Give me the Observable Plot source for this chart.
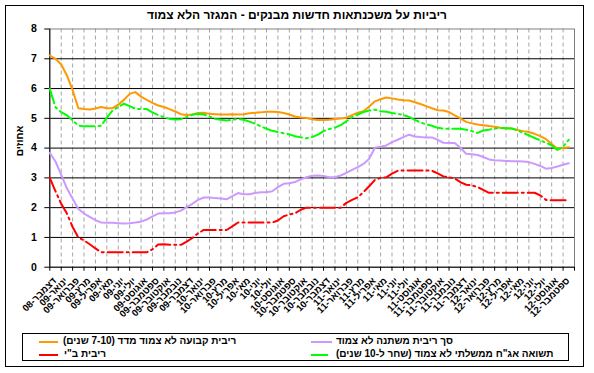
<!DOCTYPE html>
<html><head><meta charset="utf-8">
<script src="https://cdn.jsdelivr.net/npm/d3@7"></script>
<script src="https://cdn.jsdelivr.net/npm/@observablehq/plot@0.6"></script>
<style>
body{margin:0;background:#fff;}
#wrap{position:relative;width:594px;height:373px;overflow:hidden;font-family:"Liberation Sans",Arial,"DejaVu Sans",sans-serif;font-weight:bold;color:#000;background:#fff;}
#wrap svg{position:absolute;left:0;top:0;}
.abs{position:absolute;white-space:nowrap;}
#border{left:5px;top:5px;width:579px;height:362px;border:1px solid #000;box-sizing:border-box;}
#title{left:0;top:8px;width:594px;text-align:center;font-size:12px;direction:rtl;line-height:14px;}
#ylab{left:19px;top:141px;font-size:10px;transform:translate(-50%,-50%) rotate(-90deg);direction:rtl;}
#legend{left:22px;top:333px;width:547px;height:28px;border:1px solid #000;box-sizing:border-box;}
.sw{position:absolute;height:2px;}
.lt{position:absolute;font-size:10px;line-height:12px;direction:rtl;white-space:nowrap;}
</style></head>
<body>
<div id="wrap"></div>
<script>
const title = "ריביות על משכנתאות חדשות מבנקים - המגזר הלא צמוד";
const yLabel = "אחוזים";
const monthLabels = [
 "דצמבר-08","ינואר-09","פברואר-09","מרץ-09","אפריל-09","מאי-09","יוני-09","יולי-09","אוגוסט-09","ספטמבר-09","אוקטובר-09","נובמבר-09",
 "דצמבר-09","ינואר-10","פברואר-10","מרץ-10","אפריל-10","מאי-10","יוני-10","יולי-10","אוגוסט-10","ספטמבר-10","אוקטובר-10","נובמבר-10",
 "דצמבר-10","ינואר-11","פברואר-11","מרץ-11","אפריל-11","מאי-11","יוני-11","יולי-11","אוגוסט-11","ספטמבר-11","אוקטובר-11","נובמבר-11",
 "דצמבר-11","ינואר-12","פברואר-12","מרץ-12","אפריל-12","מאי-12","יוני-12","יולי-12","אוגוסט-12","ספטמבר-12"
];
const seriesNames = [
 "ריבית קבועה לא צמוד מדד (7-10 שנים)",
 "סך ריבית משתנה לא צמוד",
 "ריבית ב\"י",
 "תשואה אג\"ח ממשלתי לא צמוד (שחר ל-10 שנים)"
];
const seriesColors = ["#FF9900", "#CC99FF", "#FF0000", "#00FF00"];
// values read every half month, starting at the first day of Dec-08
const fixedRate = [
 7.11,7.00,6.81,6.44,5.95,5.34,5.31,5.30,5.33,5.38,
 5.34,5.34,5.46,5.62,5.82,5.88,5.73,5.62,5.52,5.43,
 5.38,5.31,5.23,5.14,5.11,5.13,5.18,5.19,5.15,5.14,
 5.13,5.13,5.14,5.13,5.14,5.17,5.19,5.20,5.22,5.22,
 5.21,5.18,5.13,5.06,5.03,5.01,4.97,4.94,
 4.94,4.95,4.98,4.99,5.02,5.11,5.19,5.24,5.40,5.57,
 5.64,5.70,5.67,5.63,5.61,5.60,5.54,5.48,5.41,5.34,
 5.27,5.26,5.21,5.10,5.00,4.88,4.83,4.79,4.77,4.74,
 4.72,4.68,4.66,4.66,4.61,4.57,4.54,4.48,4.40,4.30,
 4.14,3.98,4.00,4.03
];
const variableRate = [
 3.84,3.55,3.10,2.65,2.30,1.96,1.80,1.69,1.58,1.50,
 1.49,1.49,1.48,1.47,1.48,1.50,1.53,1.60,1.71,1.80,
 1.81,1.81,1.84,1.90,2.02,2.13,2.26,2.34,2.34,2.32,
 2.31,2.28,2.39,2.49,2.45,2.45,2.49,2.52,2.52,2.55,
 2.69,2.80,2.82,2.86,2.95,3.02,3.07,3.08,
 3.06,3.02,3.02,3.08,3.17,3.27,3.36,3.47,3.64,4.01,
 4.05,4.09,4.20,4.28,4.37,4.45,4.39,4.37,4.36,4.36,
 4.28,4.18,4.17,4.17,4.01,3.81,3.79,3.77,3.70,3.62,
 3.59,3.58,3.57,3.56,3.56,3.55,3.53,3.47,3.40,3.31,
 3.33,3.38,3.44,3.49
];
const boiRate = [
 3.00,2.55,2.13,1.80,1.35,1.00,0.90,0.77,0.63,0.50,
 0.50,0.50,0.50,0.50,0.50,0.50,0.50,0.50,0.60,0.76,
 0.77,0.75,0.75,0.75,0.86,0.98,1.14,1.25,1.25,1.25,
 1.25,1.25,1.37,1.50,1.50,1.50,1.50,1.50,1.50,1.50,
 1.57,1.71,1.77,1.81,1.93,2.00,2.00,2.00,
 2.00,2.00,2.00,2.00,2.16,2.26,2.35,2.52,2.72,2.93,
 3.00,3.02,3.14,3.24,3.25,3.25,3.25,3.25,3.25,3.24,
 3.15,3.05,3.02,2.98,2.86,2.77,2.75,2.69,2.60,2.50,
 2.50,2.50,2.50,2.50,2.50,2.50,2.50,2.50,2.41,2.26,
 2.25,2.25,2.25,2.25
];
const bondYield = [
 5.99,5.37,5.21,5.10,4.93,4.76,4.73,4.73,4.73,4.75,
 5.02,5.26,5.38,5.49,5.41,5.32,5.31,5.31,5.20,5.11,
 5.04,4.98,4.96,4.97,5.04,5.12,5.15,5.13,5.06,4.98,
 4.95,4.93,4.95,4.98,4.95,4.89,4.82,4.73,4.65,4.58,
 4.54,4.50,4.46,4.40,4.36,4.33,4.37,4.45,
 4.57,4.64,4.69,4.77,4.90,5.04,5.13,5.21,5.26,5.29,
 5.24,5.22,5.18,5.15,5.11,5.05,4.95,4.86,4.80,4.75,
 4.68,4.65,4.65,4.65,4.65,4.62,4.57,4.51,4.59,4.62,
 4.66,4.68,4.67,4.66,4.59,4.51,4.43,4.34,4.26,4.18,
 4.09,3.94,4.05,4.28
];
const yTicks = [0,1,2,3,4,5,6,7,8];

const allSeries = [fixedRate, variableRate, boiRate, bondYield];
const rows = allSeries.map(vals => vals.map((v, k) => ({t: k / 2, v})));
const FONT = '"Liberation Sans", Arial, "DejaVu Sans", sans-serif';
const dash = "15,4,2,4";

const chart = Plot.plot({
  width: 594, height: 373,
  marginLeft: 49.3, marginRight: 20, marginTop: 28.5, marginBottom: 106.3,
  x: {type: "linear", domain: [0, monthLabels.length]},
  y: {domain: [0, 8]},
  style: {fontFamily: FONT, fontWeight: "bold", fontSize: "10px", background: "transparent", color: "black"},
  marks: [
    Plot.ruleX(d3.range(1, monthLabels.length), {stroke: "#a6a6a6", strokeDasharray: "4,3", strokeOpacity: 1}),
    Plot.ruleY(yTicks.slice(1, -1), {stroke: "#000", strokeWidth: 1}),
    Plot.frame({stroke: "#808080"}),
    Plot.ruleX([0], {stroke: "#000"}),
    Plot.ruleY([0], {stroke: "#000"}),
    Plot.axisY({ticks: yTicks, tickSize: 5, tickPadding: 8, fontSize: 10.5, fontWeight: "bold", label: null, tickFormat: d => String(d)}),
    Plot.axisX({ticks: d3.range(monthLabels.length + 1), tickSize: 4, tickFormat: () => "", label: null}),
    Plot.text(monthLabels, {x: (d, i) => i, text: d => d, frameAnchor: "bottom", rotate: -45,
      textAnchor: "end", lineAnchor: "middle", dx: 5, dy: 12, fontSize: 9.5, fontWeight: "bold", fill: "#000"}),
    Plot.line(rows[0], {x: "t", y: "v", stroke: seriesColors[0], strokeWidth: 2}),
    Plot.line(rows[1], {x: "t", y: "v", stroke: seriesColors[1], strokeWidth: 2}),
    Plot.line(rows[2], {x: "t", y: "v", stroke: seriesColors[2], strokeWidth: 2, strokeDasharray: dash}),
    Plot.line(rows[3], {x: "t", y: "v", stroke: seriesColors[3], strokeWidth: 2, strokeDasharray: dash})
  ]
});

const wrap = document.getElementById("wrap");
wrap.appendChild(chart);
function add(cls, id, text) {
  const d = document.createElement("div");
  d.className = cls; if (id) d.id = id; if (text != null) d.textContent = text;
  wrap.appendChild(d); return d;
}
add("abs", "title", title);
add("abs", "ylab", yLabel);
const legend = add("abs", "legend");
add("abs", "border");
// legend entries: [series index, swatch left, swatch width, text left, row top]
const legendLayout = [[0, 16, 19, 40, 7], [1, 288, 21, 313, 7], [2, 16, 19, 41, 20], [3, 288, 17, 313, 20]];
legendLayout.forEach(([s, sl, sw, tl, top]) => {
  const sws = document.createElement("div");
  sws.className = "sw";
  Object.assign(sws.style, {left: sl + "px", top: top + "px", width: sw + "px", background: seriesColors[s]});
  legend.appendChild(sws);
  const t = document.createElement("div");
  t.className = "lt";
  t.textContent = seriesNames[s];
  Object.assign(t.style, {left: tl + "px", top: (top - 6) + "px"});
  legend.appendChild(t);
});
</script>
</body></html>
